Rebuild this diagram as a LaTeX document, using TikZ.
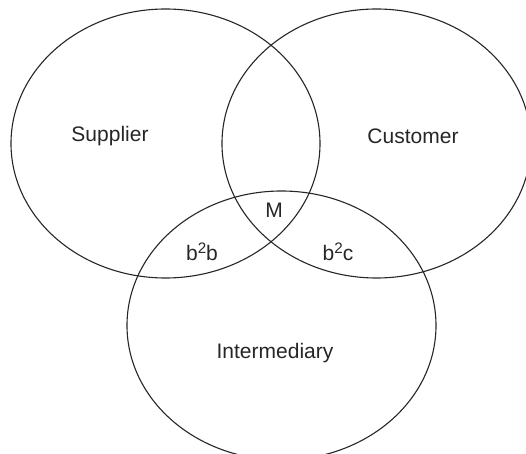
\documentclass[tikz,border=0pt]{standalone}
\usepackage{fontspec}
\setmainfont{Liberation Sans}
\usetikzlibrary{shapes.geometric}
\newcommand{\sqr}{\raisebox{0.33em}{\fontsize{7.6}{8}\selectfont 2}}
\tikzset{
  set/.style={draw=black!85, ellipse, line width=0.55pt, inner sep=0pt,
    minimum width=154.5pt, minimum height=134.5pt},
  lbl/.style={inner sep=0pt, text=black!85, font=\fontsize{10.5}{12}\selectfont}
}
\begin{document}
\begin{tikzpicture}[x=0.5pt,y=-0.5pt]
   \useasboundingbox (0,0) rectangle (526,454);
   \node (S) [set] at (165.5,143.5) {};
   \node (C) [set] at (376.5,143.5) {};
   \node (I) [set] at (281.5,325.5) {};

   \node (Sl)  [lbl] at (110,136) {Supplier};
   \node (Cl)  [lbl] at (413,136) {Customer};
   \node (Il)  [lbl] at (275,353) {Intermediary};
   \node (M)   [lbl] at (274,210) {M};
   \node (SI)  [lbl] at (202,252) {b\sqr b};
   \node (CI)  [lbl] at (338,252) {b\sqr c};
  \end{tikzpicture}
\end{document}
